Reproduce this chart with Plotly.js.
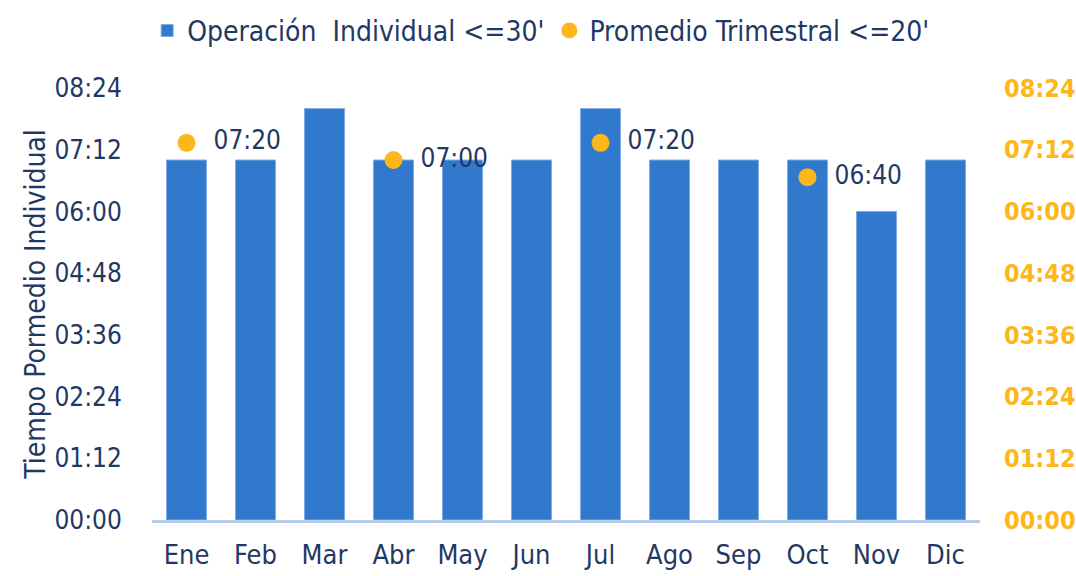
<!DOCTYPE html>
<html>
<head>
<meta charset="utf-8">
<script src="https://cdn.plot.ly/plotly-3.0.1.min.js"></script>
<style>html,body{margin:0;padding:0;background:#fff;}#chart{width:1076px;height:576px;}</style>
</head>
<body>
<div id="chart"></div>
<script>
const months = ['Ene','Feb','Mar','Abr','May','Jun','Jul','Ago','Sep','Oct','Nov','Dic'];
// values in minutes (mm:ss shown as HH:MM style labels)
const individual = [420,420,480,420,420,420,480,420,420,420,360,420];
const quarterMonths = ['Ene','Abr','Jul','Oct'];
const quarterValues = [440,420,440,400];
const quarterLabels = ['07:20','07:00','07:20','06:40'];
const tickValues = [0,72,144,216,288,360,432,504];
const tickLabels = ['00:00','01:12','02:24','03:36','04:48','06:00','07:12','08:24'];

const navy = '#1F3864';
const gold = '#FDB71A';
const fontFam = '"DejaVu Sans Condensed", "DejaVu Sans", sans-serif';

const traces = [
  {
    type: 'bar', x: months, y: individual, name: 'Operación  Individual <=30\'',
    marker: {color: '#3179CC', line: {color: '#7FAEE3', width: 1}},
    width: 0.58, hoverinfo: 'skip'
  },
  {
    type: 'scatter', mode: 'markers+text', x: quarterMonths, y: quarterValues,
    name: 'Promedio Trimestral <=20\'', yaxis: 'y2',
    marker: {color: gold, size: 18},
    text: quarterLabels.map(s => '  ' + s), textposition: 'middle right',
    textfont: {family: fontFam, size: 26, color: navy}, cliponaxis: false
  }
];

const layout = {
  width: 1076, height: 576,
  margin: {l: 152, r: 96, t: 88, b: 56},
  paper_bgcolor: '#fff', plot_bgcolor: '#fff',
  font: {family: fontFam, size: 26, color: navy},
  showlegend: true,
  legend: {orientation: 'h', x: 0.47, xanchor: 'center', yref: 'container', y: 0.99, yanchor: 'top',
           font: {family: fontFam, size: 28, color: navy}, itemwidth: 30, traceorder: 'normal'},
  xaxis: {
    type: 'category', range: [-0.5, 11.5], showgrid: false, zeroline: false,
    showline: true, linecolor: '#B4CCE8', linewidth: 3,
    ticks: 'outside', ticklen: 9, tickcolor: 'rgba(0,0,0,0)',
    tickfont: {family: fontFam, size: 27, color: navy}, fixedrange: true
  },
  yaxis: {
    range: [0, 504], tickvals: tickValues, ticktext: tickLabels,
    showgrid: false, zeroline: false, showline: false,
    ticks: 'outside', ticklen: 24, tickcolor: 'rgba(0,0,0,0)',
    tickfont: {family: fontFam, size: 26, color: navy},
    title: {text: 'Tiempo Pormedio Individual', font: {family: fontFam, size: 28, color: navy}, standoff: 0}
  },
  yaxis2: {
    overlaying: 'y', side: 'right', range: [0, 504], tickvals: tickValues, ticktext: tickLabels,
    showgrid: false, zeroline: false, showline: false,
    ticks: 'outside', ticklen: 18, tickcolor: 'rgba(0,0,0,0)',
    tickfont: {family: fontFam, size: 25, color: gold, weight: 'bold'}
  }
};

Plotly.newPlot('chart', traces, layout, {displayModeBar: false, staticPlot: true});
</script>
</body>
</html>
